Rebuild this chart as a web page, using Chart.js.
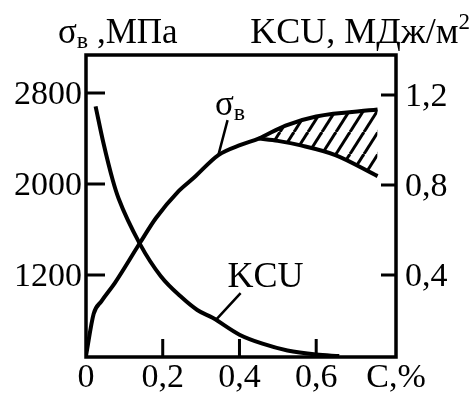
<!DOCTYPE html>
<html>
<head>
<meta charset="utf-8">
<script src="https://cdn.jsdelivr.net/npm/chart.js@4.4.1/dist/chart.umd.min.js"></script>
<style>
  html,body{margin:0;padding:0;background:#fff;}
  canvas{display:block;}
</style>
</head>
<body>
<canvas id="chart" width="472" height="397"></canvas>
<script>
// σв up to the split, then along its upper branch
const carbonMain = [0, 0.02, 0.04, 0.075, 0.14, 0.182, 0.239, 0.281, 0.345, 0.403, 0.45, 0.52, 0.6, 0.76];
const sigmaMain  = [490, 860, 970, 1130, 1480, 1700, 1930, 2055, 2255, 2345, 2400, 2515, 2595, 2655];
// lower branch of σв (hatched band between the two)
const carbonLower = [0.45, 0.5, 0.56, 0.65, 0.76];
const sigmaLower  = [2400, 2380, 2340, 2255, 2070];
// KCU, right axis
const carbonKcu = [0.025, 0.045, 0.07, 0.085, 0.14, 0.195, 0.25, 0.29, 0.33, 0.4, 0.46, 0.525, 0.6, 0.66];
const kcuValues = [1.15, 0.99, 0.82, 0.74, 0.54, 0.395, 0.3, 0.245, 0.21, 0.135, 0.095, 0.065, 0.047, 0.04];

const carbonTicks = [0, 0.2, 0.4, 0.6];
const sigmaTicks = [1200, 2000, 2800];
const kcuTicks = [0.4, 0.8, 1.2];
const X_MAX = 0.808, X_NAME = "C,%";

const FONT = "Liberation Serif, Times New Roman, serif";
const pts = (xs, ys) => xs.map((x, i) => ({ x, y: ys[i] }));
const comma = v => String(v).replace(".", ",");

function hatch(){
  const w = 14, h = 22, c = document.createElement("canvas");
  c.width = w; c.height = h;
  const g = c.getContext("2d");
  g.strokeStyle = "#000"; g.lineWidth = 3;
  [-w, 0, w].forEach(o => { g.beginPath(); g.moveTo(o, h); g.lineTo(o + w, 0); g.stroke(); });
  return g.createPattern(c, "repeat");
}

function drawParts(ctx, parts, x, y, align){
  let total = 0;
  parts.forEach(p => { ctx.font = p.size + "px " + FONT; total += ctx.measureText(p.t).width; });
  let cx = align === "right" ? x - total : x;
  ctx.textAlign = "left"; ctx.textBaseline = "alphabetic";
  parts.forEach(p => { ctx.font = p.size + "px " + FONT; ctx.fillText(p.t, cx, y + (p.dy || 0)); cx += ctx.measureText(p.t).width; });
}

const decor = {
  id: "decor",
  afterDatasetsDraw(chart){
    const { ctx, chartArea: a, scales } = chart;
    const X = scales.x, L = scales.y, R = scales.y1;
    ctx.save();
    ctx.strokeStyle = "#000"; ctx.fillStyle = "#000"; ctx.lineCap = "butt";
    ctx.lineWidth = 3.5;
    ctx.strokeRect(a.left, a.top, a.right - a.left, a.bottom - a.top);
    ctx.lineWidth = 3;
    ctx.beginPath();
    carbonTicks.slice(1).forEach(v => { const p = X.getPixelForValue(v); ctx.moveTo(p, a.bottom); ctx.lineTo(p, a.bottom - 18); });
    sigmaTicks.forEach(v => { const p = L.getPixelForValue(v); ctx.moveTo(a.left, p); ctx.lineTo(a.left + 19, p); });
    kcuTicks.forEach(v => { const p = R.getPixelForValue(v); ctx.moveTo(a.right, p); ctx.lineTo(a.right - 15, p); });
    ctx.stroke();

    // leaders
    ctx.lineWidth = 2.5;
    ctx.beginPath();
    ctx.moveTo(X.getPixelForValue(0.345), L.getPixelForValue(2255));
    ctx.lineTo(X.getPixelForValue(0.369), L.getPixelForValue(2563));
    ctx.moveTo(X.getPixelForValue(0.338), R.getPixelForValue(0.2));
    ctx.lineTo(X.getPixelForValue(0.403), R.getPixelForValue(0.32));
    ctx.stroke();

    drawParts(ctx, [{ t: "σ", size: 35 }, { t: "в", size: 24, dy: 5 }],
      X.getPixelForValue(0.336), L.getPixelForValue(2607));
    drawParts(ctx, [{ t: "KCU", size: 36 }], X.getPixelForValue(0.369), R.getPixelForValue(0.347));

    // axis titles
    drawParts(ctx, [{ t: "σ", size: 35 }, { t: "в", size: 24, dy: 5 }, { t: " ,МПа", size: 35 }], 58, 43);
    drawParts(ctx, [{ t: "KCU, МДж/м", size: 36 }, { t: "2", size: 23, dy: -14 }], 470, 43, "right");
    ctx.restore();
  }
};

const tickFont = { family: FONT, size: 34 };
new Chart(document.getElementById("chart"), {
  type: "line",
  data: {
    datasets: [
      { data: pts(carbonMain, sigmaMain), yAxisID: "y", borderColor: "#000", borderWidth: 4, pointRadius: 0, cubicInterpolationMode: "monotone", fill: false },
      { data: pts(carbonLower, sigmaLower), yAxisID: "y", borderColor: "#000", borderWidth: 4, pointRadius: 0, cubicInterpolationMode: "monotone",
        fill: { target: 0 }, backgroundColor: hatch() },
      { data: pts(carbonKcu, kcuValues), yAxisID: "y1", borderColor: "#000", borderWidth: 4, pointRadius: 0, cubicInterpolationMode: "monotone", fill: false }
    ]
  },
  options: {
    responsive: false, animation: false, events: [],
    layout: { padding: { top: 55 } },
    plugins: { legend: { display: false }, tooltip: { enabled: false } },
    scales: {
      x: { type: "linear", min: 0, max: X_MAX,
        afterBuildTicks: s => { s.ticks = carbonTicks.concat([X_MAX]).map(v => ({ value: v })); },
        afterFit: s => { s.height = 40; },
        grid: { display: false, drawTicks: false }, border: { display: false },
        ticks: { font: tickFont, color: "#000", padding: 1, maxRotation: 0, autoSkip: false,
          callback: v => v === X_MAX ? X_NAME : comma(v) } },
      y: { position: "left", min: 480, max: 3135,
        afterBuildTicks: s => { s.ticks = sigmaTicks.map(v => ({ value: v })); },
        afterFit: s => { s.width = 86; },
        grid: { display: false, drawTicks: false }, border: { display: false },
        ticks: { font: tickFont, color: "#000", padding: 4, labelOffset: 2, callback: v => String(v) } },
      y1: { position: "right", min: 0.036, max: 1.378,
        afterBuildTicks: s => { s.ticks = kcuTicks.map(v => ({ value: v })); },
        afterFit: s => { s.width = 76; },
        grid: { display: false, drawTicks: false }, border: { display: false },
        ticks: { font: tickFont, color: "#000", padding: 9, labelOffset: 2, callback: v => comma(v) } }
    }
  },
  plugins: [decor]
});
</script>
</body>
</html>
